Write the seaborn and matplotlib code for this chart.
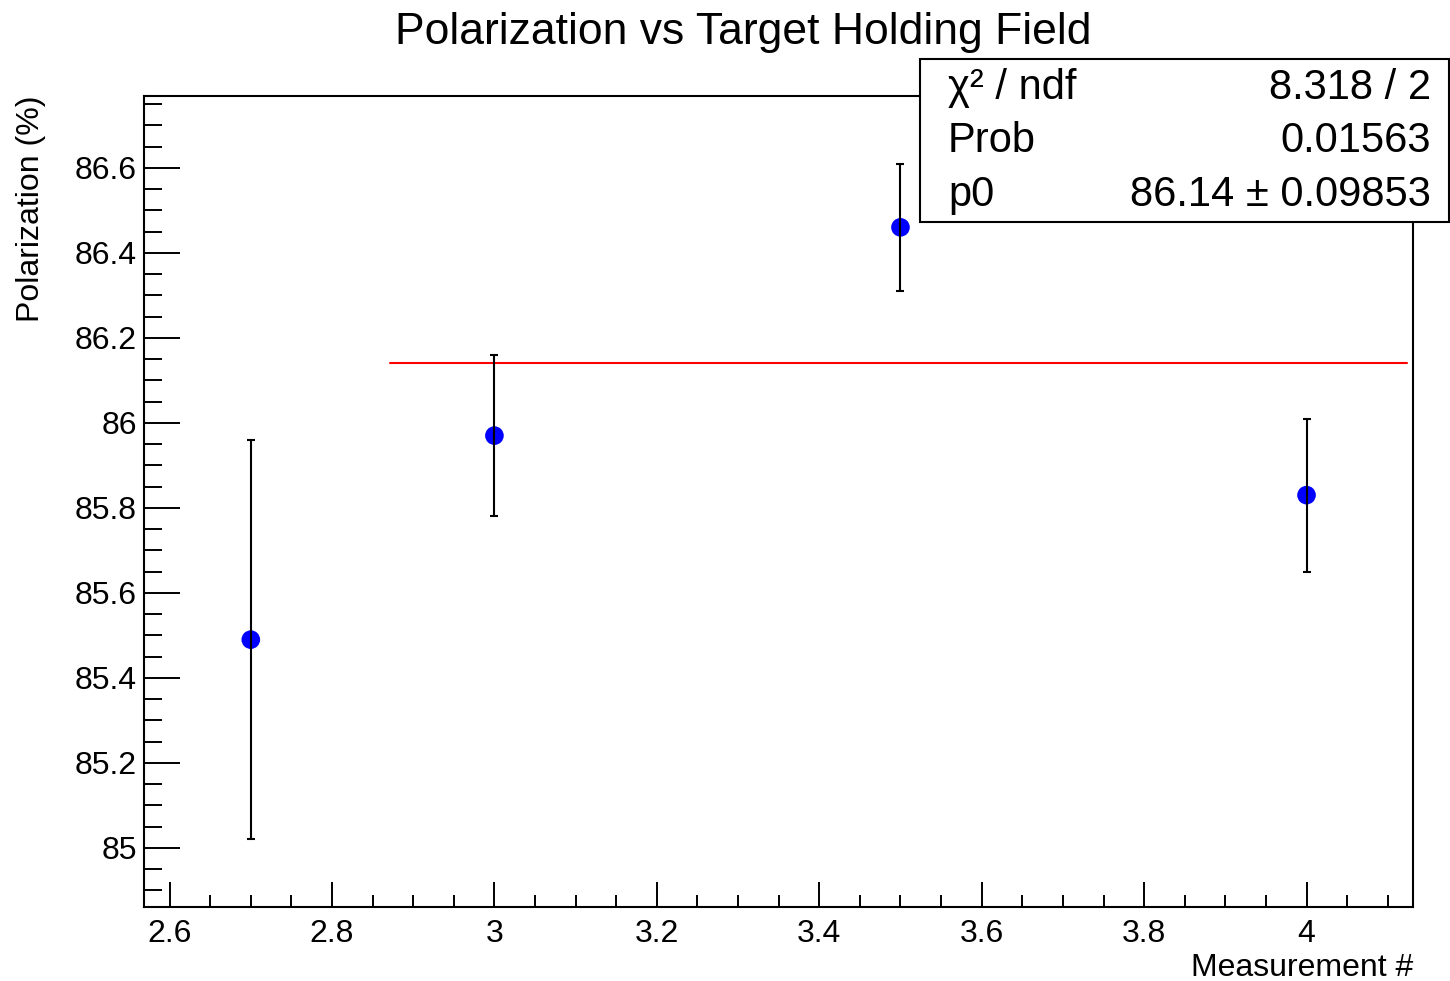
import numpy as np
import pandas as pd
import seaborn as sns
import matplotlib
matplotlib.use("Agg")
import matplotlib.pyplot as plt
from matplotlib.ticker import MultipleLocator
from matplotlib.patches import Rectangle

# ---- data ----
measurement = [2.7, 3.0, 3.5, 4.0]
polarization = [85.49, 85.97, 86.46, 85.83]
pol_error = [0.47, 0.19, 0.15, 0.18]
fit_x = [2.872, 4.124]
fit_p0 = 86.14
stats_labels = ["χ² / ndf", "Prob", "p0"]
stats_values = ["8.318 / 2", "0.01563", "86.14 ± 0.09853"]
title = "Polarization vs Target Holding Field"
xlabel = "Measurement #"
ylabel = "Polarization (%)"

sns.set_style("ticks")
plt.rcParams["font.family"] = ["Liberation Sans", "DejaVu Sans"]
plt.rcParams["text.color"] = "black"
plt.rcParams["axes.labelcolor"] = "black"
plt.rcParams["xtick.color"] = "black"
plt.rcParams["ytick.color"] = "black"
plt.rcParams["xtick.labelcolor"] = "black"
plt.rcParams["ytick.labelcolor"] = "black"

df = pd.DataFrame({"x": measurement, "y": polarization, "err": pol_error})
fit_df = pd.DataFrame({"x": fit_x, "y": [fit_p0] * len(fit_x)})

fig = plt.figure(figsize=(14.5, 9.81), dpi=100)
ax = fig.add_axes([144 / 1450, 1 - 907 / 981, (1413 - 144) / 1450, (907 - 96) / 981])

sns.lineplot(data=fit_df, x="x", y="y", ax=ax, color="#ff0000", lw=1.5, zorder=2)
sns.scatterplot(data=df, x="x", y="y", ax=ax, color="#0000ff", s=180,
                edgecolor="none", linewidth=0, zorder=3)
ax.errorbar(df["x"], df["y"], yerr=df["err"], fmt="none", ecolor="black",
            elinewidth=1.5, capsize=3, capthick=1.5, zorder=4)

ax.set_xlim(2.5685, 4.1311)
ax.set_ylim(84.861, 86.769)
ax.xaxis.set_major_locator(MultipleLocator(0.2))
ax.xaxis.set_minor_locator(MultipleLocator(0.05))
ax.yaxis.set_major_locator(MultipleLocator(0.2))
ax.yaxis.set_minor_locator(MultipleLocator(0.05))
ax.xaxis.set_major_formatter(matplotlib.ticker.FuncFormatter(lambda v, p: f"{v:g}"))
ax.yaxis.set_major_formatter(matplotlib.ticker.FuncFormatter(lambda v, p: f"{round(v, 1):g}"))

ax.tick_params(axis="both", which="both", direction="in", top=False, right=False,
               width=1.4, color="black", labelcolor="black", labelsize=23)
ax.tick_params(axis="y", which="major", length=26, pad=5)
ax.tick_params(axis="y", which="minor", length=13)
ax.tick_params(axis="x", which="major", length=18, pad=9)
ax.tick_params(axis="x", which="minor", length=9)

for s in ax.spines.values():
    s.set_visible(True)
    s.set_linewidth(1.5)
    s.set_color("black")

ax.set_xlabel(xlabel, fontsize=23, loc="right", color="black")
ax.xaxis.set_label_coords(1.0, -0.057)
ax.set_ylabel(ylabel, fontsize=23, loc="top", color="black")
ax.yaxis.set_label_coords(-0.077, 1.0)

ax.set_title(title, fontsize=32, x=(743 - 144) / 1269, y=1.064, pad=0, color="black")

# stats box
bx0, by0 = 920 / 1450, 1 - 222 / 981
bw, bh = 529 / 1450, 163 / 981
fig.patches.append(Rectangle((bx0, by0), bw, bh, transform=fig.transFigure,
                             facecolor="white", edgecolor="black", lw=1.5, zorder=10))
row_centers = [88, 141, 195]
for lab, val, yc in zip(stats_labels, stats_values, row_centers):
    fig.text(948 / 1450, 1 - yc / 981, lab, fontsize=30, ha="left", va="center",
             color="black", zorder=11)
    fig.text(1431 / 1450, 1 - yc / 981, val, fontsize=30, ha="right", va="center",
             color="black", zorder=11)

fig.savefig("out.png", dpi=100, facecolor="white")
